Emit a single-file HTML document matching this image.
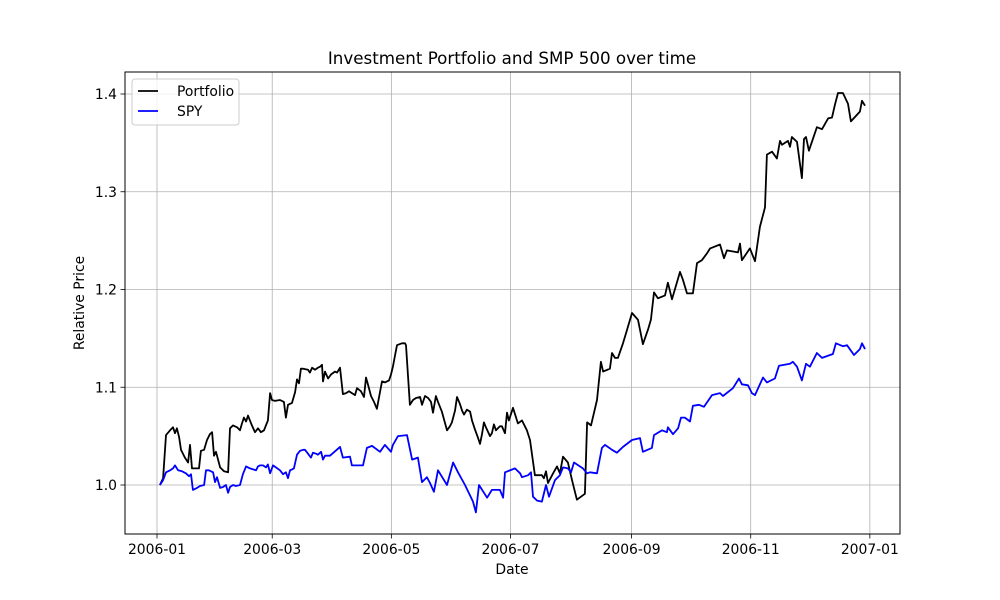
<!DOCTYPE html>
<html><head><meta charset="utf-8"><style>
body{margin:0;background:#fff;}
svg{display:block;font-family:"DejaVu Sans","Liberation Sans",sans-serif;}
</style></head><body>
<svg id="chart" width="1000" height="600" viewBox="0 0 1000 600" xmlns="http://www.w3.org/2000/svg">
<rect width="1000" height="600" fill="#fff"/>
<g id="grid"></g>
<g id="series"></g>
<rect x="125" y="72" width="775" height="462" fill="none" stroke="#000" stroke-width="1"/>
<g id="ticks"></g>
<text x="512" y="64" font-size="16.7" text-anchor="middle">Investment Portfolio and SMP 500 over time</text>
<text x="512" y="574" font-size="13.9" text-anchor="middle">Date</text>
<text x="84" y="303" font-size="13.9" text-anchor="middle" transform="rotate(-90 84 303)">Relative Price</text>
<g>
<rect x="132" y="79" width="107" height="46" rx="3" fill="#fff" fill-opacity="0.8" stroke="#ccc"/>
<line x1="138" y1="91" x2="158" y2="91" stroke="#000" stroke-width="1.8"/>
<text x="177" y="96" font-size="13.9">Portfolio</text>
<line x1="138" y1="111" x2="158" y2="111" stroke="#0000ff" stroke-width="1.8"/>
<text x="177" y="116" font-size="13.9">SPY</text>
</g>
</svg>
<script>
const xTickDays=[0,59,120,181,243,304,365];
const xTickLabels=["2006-01","2006-03","2006-05","2006-07","2006-09","2006-11","2007-01"];
const yTicks=[1.0,1.1,1.2,1.3,1.4];
const yTickLabels=["1.0","1.1","1.2","1.3","1.4"];
const portDays=[1.5,3.1,4.6,6.7,8.2,9.2,10.2,11.3,12.3,14.3,15.9,16.9,17.9,19.5,21.5,22.5,24.1,25.6,27.1,28.2,29.2,30.2,32.3,34.3,36.4,37.4,38.9,41.0,42.5,43.5,44.5,45.6,46.6,48.6,50.2,51.7,53.2,54.8,56.8,57.9,58.9,60.4,63.0,65.0,66.0,67.1,69.1,70.7,71.7,72.7,73.7,74.8,77.3,78.3,79.4,80.9,82.4,83.5,84.5,85.0,86.0,87.6,89.1,91.1,92.2,93.7,95.2,96.8,98.3,99.8,101.4,102.4,104.4,106.0,107.0,108.0,109.6,111.1,112.6,114.2,115.2,116.7,118.8,119.8,120.8,121.9,122.9,125.4,127.0,127.5,129.5,131.1,132.6,134.7,135.7,137.2,138.8,140.3,141.3,142.8,143.9,145.9,148.5,150.0,151.0,152.6,153.6,155.1,156.2,157.2,158.7,160.3,161.3,162.8,164.4,165.4,166.4,167.4,168.4,170.5,171.5,172.5,173.6,175.6,176.6,
178.2,179.2,180.2,182.3,184.8,186.9,189.4,191.0,193.5,197.1,198.1,199.2,200.2,202.8,204.8,206.3,207.9,210.4,212.5,215.0,219.1,220.2,222.2,225.3,227.3,228.4,231.9,233.0,234.5,236.0,238.6,240.7,243.2,246.3,248.8,251.4,252.9,254.5,256.5,260.1,261.6,263.7,267.8,269.3,271.4,274.4,276.5,279.0,281.6,283.2,288.3,290.3,291.8,297.5,298.5,299.5,303.6,306.2,308.7,311.3,312.3,314.9,317.4,319.0,320.0,323.1,324.1,325.1,327.7,330.2,331.3,332.3,333.8,337.9,340.5,343.6,345.6,347.1,348.7,351.2,353.8,355.3,359.9,361.0,362.5];
const portValues=[1.000,1.007,1.051,1.056,1.059,1.053,1.058,1.049,1.036,1.028,1.023,1.041,1.017,1.017,1.017,1.035,1.036,1.046,1.052,1.054,1.030,1.034,1.018,1.014,1.013,1.058,1.061,1.059,1.056,1.063,1.069,1.065,1.071,1.061,1.054,1.058,1.054,1.056,1.066,1.094,1.087,1.086,1.087,1.085,1.069,1.082,1.084,1.095,1.108,1.104,1.119,1.119,1.118,1.115,1.120,1.118,1.120,1.121,1.123,1.106,1.116,1.109,1.113,1.116,1.115,1.120,1.093,1.094,1.096,1.094,1.092,1.099,1.096,1.090,1.110,1.103,1.091,1.085,1.078,1.095,1.106,1.105,1.107,1.113,1.121,1.133,1.143,1.145,1.145,1.143,1.082,1.087,1.089,1.090,1.082,1.091,1.089,1.085,1.074,1.091,1.085,1.075,1.056,1.060,1.064,1.076,1.090,1.083,1.076,1.072,1.077,1.075,1.066,1.057,1.048,1.042,1.052,1.064,1.059,1.050,1.053,1.062,1.056,1.060,1.060,
1.053,1.074,1.066,1.079,1.063,1.066,1.056,1.046,1.010,1.010,1.007,1.014,1.002,1.012,1.019,1.012,1.029,1.023,1.005,0.985,0.991,1.064,1.061,1.087,1.126,1.116,1.119,1.135,1.130,1.130,1.145,1.159,1.176,1.169,1.144,1.159,1.169,1.197,1.191,1.194,1.207,1.190,1.218,1.210,1.196,1.196,1.227,1.230,1.237,1.242,1.246,1.232,1.240,1.238,1.247,1.230,1.242,1.229,1.264,1.284,1.338,1.341,1.334,1.352,1.348,1.352,1.346,1.356,1.351,1.314,1.354,1.356,1.342,1.366,1.364,1.375,1.376,1.389,1.401,1.401,1.390,1.372,1.382,1.393,1.388];
const spyDays=[1.5,3.1,4.6,6.7,8.2,9.2,10.8,12.8,14.8,16.4,17.4,18.4,20.5,22.0,24.1,25.1,26.6,28.7,29.7,30.7,32.3,33.8,35.3,36.4,37.4,38.9,40.4,42.5,44.0,45.6,47.6,49.2,50.7,51.7,52.7,54.3,55.8,56.8,57.9,59.4,60.9,63.0,64.5,66.0,67.1,68.1,69.1,70.1,71.7,73.2,74.8,75.8,77.3,78.8,79.9,81.4,82.4,84.0,85.0,86.0,
88.6,93.7,95.2,98.8,99.8,105.5,107.5,110.1,114.2,116.7,119.8,120.8,123.4,128.0,130.6,133.6,135.7,138.2,139.8,141.8,143.9,148.5,151.6,154.1,157.7,161.8,163.3,164.9,169.0,171.5,175.6,177.2,178.2,183.3,185.9,186.9,190.0,191.5,192.5,194.6,197.1,199.2,200.7,203.8,206.3,207.9,210.4,212.0,213.5,218.1,220.2,221.7,225.3,227.8,229.4,233.0,235.5,238.6,243.2,247.3,248.8,253.4,254.5,258.6,261.1,261.6,264.2,266.8,268.3,270.3,272.9,274.4,277.5,280.1,284.2,288.3,289.8,294.9,298.0,299.5,302.6,304.6,306.2,310.3,312.3,316.4,318.5,324.1,325.6,327.7,330.2,332.3,334.3,337.9,340.5,346.1,347.6,351.2,353.3,356.9,359.9,361.0,362.5];
const spyValues=[1.000,1.005,1.013,1.015,1.017,1.020,1.015,1.014,1.012,1.009,1.011,0.995,0.997,0.999,1.000,1.015,1.015,1.013,1.003,1.008,0.997,0.998,1.000,0.992,0.998,1.000,0.999,1.000,1.011,1.019,1.017,1.016,1.015,1.019,1.020,1.020,1.018,1.021,1.012,1.020,1.018,1.015,1.011,1.013,1.007,1.015,1.016,1.017,1.031,1.035,1.036,1.036,1.032,1.028,1.033,1.032,1.031,1.034,1.026,1.030,
1.030,1.039,1.028,1.029,1.020,1.020,1.038,1.040,1.034,1.041,1.034,1.041,1.050,1.051,1.026,1.028,1.003,1.008,1.002,0.993,1.015,1.000,1.023,1.013,1.000,0.983,0.972,1.000,0.987,0.995,0.995,0.987,1.013,1.017,1.012,1.008,1.010,1.013,0.988,0.984,0.983,1.000,0.988,1.005,1.010,1.018,1.017,1.013,1.023,1.017,1.012,1.013,1.012,1.038,1.041,1.036,1.033,1.039,1.046,1.048,1.034,1.038,1.051,1.056,1.054,1.059,1.052,1.058,1.069,1.069,1.065,1.081,1.082,1.080,1.092,1.094,1.091,1.099,1.109,1.103,1.102,1.094,1.092,1.110,1.105,1.109,1.122,1.124,1.126,1.121,1.107,1.124,1.121,1.135,1.130,1.134,1.145,1.142,1.143,1.133,1.139,1.145,1.139];

const NS="http://www.w3.org/2000/svg";
function xScale(d){return 157+d*1.953;}
function yScale(v){return 485-(v-1)*977.5;}
function mk(tag,attrs,parent){const e=document.createElementNS(NS,tag);for(const k in attrs)e.setAttribute(k,attrs[k]);parent.appendChild(e);return e;}
const grid=document.getElementById('grid'),ticks=document.getElementById('ticks'),series=document.getElementById('series');
xTickDays.forEach((d,i)=>{
  const x=xScale(d);
  const g=mk('line',{x1:x,y1:72,x2:x,y2:534,stroke:'#b0b0b0','stroke-width':0.8},grid);
  
  
  const t=mk('line',{x1:x,y1:534,x2:x,y2:538.5,stroke:'#000','stroke-width':0.8},ticks);
  
  
  const l=mk('text',{x:x,y:554,'font-size':13.9,'text-anchor':'middle'},ticks);
  l.textContent=xTickLabels[i];
  
  
});
yTicks.forEach((v,i)=>{
  const y=yScale(v);
  const g=mk('line',{x1:125,y1:y,x2:900,y2:y,stroke:'#b0b0b0','stroke-width':0.8},grid);
  
  
  const t=mk('line',{x1:120.5,y1:y,x2:125,y2:y,stroke:'#000','stroke-width':0.8},ticks);
  
  
  const l=mk('text',{x:117,y:y+5,'font-size':13.9,'text-anchor':'end'},ticks);
  l.textContent=yTickLabels[i];
  
  
});
function pts(ds,vs){return ds.map((d,i)=>xScale(d).toFixed(1)+','+yScale(vs[i]).toFixed(1)).join(' ');}
const p1=mk('polyline',{points:pts(portDays,portValues),fill:'none',stroke:'#000','stroke-width':1.8,'stroke-linejoin':'round'},series);


const p2=mk('polyline',{points:pts(spyDays,spyValues),fill:'none',stroke:'#0000ff','stroke-width':1.8,'stroke-linejoin':'round'},series);


</script>
</body></html>
